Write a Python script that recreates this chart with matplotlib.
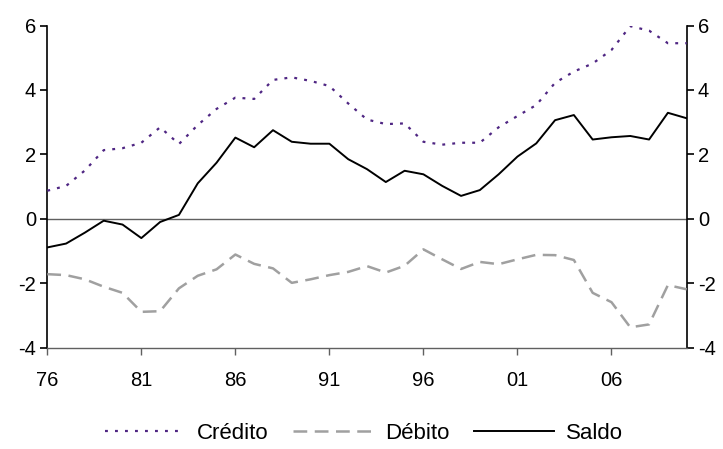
import matplotlib.pyplot as plt
import numpy as np

plt.rcParams['font.family'] = ['Liberation Sans', 'DejaVu Sans']
plt.rcParams['axes.unicode_minus'] = False

years = list(range(1976, 2011))
tick_years = [1976, 1981, 1986, 1991, 1996, 2001, 2006]
tick_labels = ["76", "81", "86", "91", "96", "01", "06"]

credito = [0.87, 1.02, 1.50, 2.13, 2.19, 2.36, 2.84, 2.32, 2.91, 3.41,
           3.76, 3.72, 4.31, 4.39, 4.28, 4.12, 3.58, 3.08, 2.94, 2.96,
           2.39, 2.30, 2.36, 2.36, 2.84, 3.19, 3.53, 4.22, 4.57, 4.82,
           5.24, 5.98, 5.84, 5.45, 5.45]
debito = [-1.72, -1.75, -1.88, -2.11, -2.30, -2.89, -2.87, -2.16, -1.77, -1.57,
          -1.11, -1.40, -1.54, -1.99, -1.88, -1.75, -1.65, -1.47, -1.67, -1.46,
          -0.95, -1.26, -1.56, -1.34, -1.41, -1.26, -1.12, -1.13, -1.28, -2.30,
          -2.59, -3.37, -3.28, -2.06, -2.19]
saldo = [-0.89, -0.77, -0.43, -0.06, -0.18, -0.60, -0.10, 0.12, 1.10, 1.74,
         2.52, 2.22, 2.75, 2.39, 2.33, 2.33, 1.85, 1.54, 1.14, 1.49,
         1.38, 1.02, 0.71, 0.89, 1.38, 1.93, 2.34, 3.06, 3.22, 2.46,
         2.53, 2.57, 2.46, 3.29, 3.12]

fig = plt.figure(figsize=(7.23, 4.49), dpi=100)
ax = fig.add_axes([47.3 / 723, 1 - 347.6 / 449, 639.4 / 723, 322.1 / 449])

ax.axhline(0, color="#606060", lw=1.0, zorder=1)
ax.plot(years, credito, color="#4F2683", lw=1.6, dashes=(1.3, 3.2), label="Crédito", zorder=3)
ax.plot(years, debito, color="#A0A0A0", lw=1.8, dashes=(5.5, 3.0), label="Débito", zorder=3)
ax.plot(years, saldo, color="black", lw=1.4, label="Saldo", zorder=4)

ax.set_xlim(1976, 2010)
ax.set_ylim(-4, 6)
ax.set_yticks(np.arange(-4, 7, 2))
ax.set_xticks(tick_years)
ax.set_xticklabels(tick_labels)

ax.spines["top"].set_visible(False)
for side in ["left", "right"]:
    ax.spines[side].set_linewidth(1.2)
ax.spines["bottom"].set_color("#606060")
ax.spines["bottom"].set_linewidth(1.0)

ax.tick_params(axis="y", which="both", direction="out", length=5, width=1.2,
               labelsize=14.5, left=True, right=True, labelleft=True, labelright=True, pad=3)
ax.tick_params(axis="x", direction="out", length=5, width=1.0, color="#606060",
               labelsize=14.5, pad=12)

ax.legend(loc="upper center", bbox_to_anchor=(0.495, -0.185), ncol=3, frameon=False,
          fontsize=16, handlelength=3.6, handletextpad=0.55, columnspacing=1.1,
          borderaxespad=0.3)

fig.savefig("out.png", dpi=100)
